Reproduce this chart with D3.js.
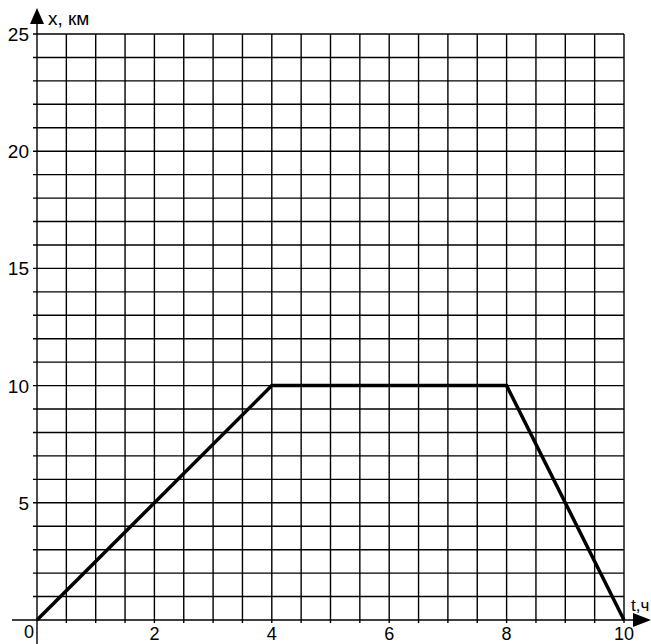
<!DOCTYPE html>
<html>
<head>
<meta charset="utf-8">
<script src="https://cdn.jsdelivr.net/npm/d3@7/dist/d3.min.js"></script>
<style>
  html, body { margin: 0; padding: 0; background: #fff; }
  svg { display: block; }
  text { font-family: "Liberation Sans", Arial, sans-serif; fill: #000; }
</style>
</head>
<body>
<svg id="chart" width="651" height="644"></svg>
<script>
// motion graph: x (km) against t (h)
const tValues = [0, 4, 8, 10];
const xValues = [0, 10, 10, 0];

const tTickLabels = [2, 4, 6, 8, 10];
const xTickLabels = [5, 10, 15, 20, 25];

const tGrid = d3.range(0.5, 10.01, 0.5);   // one cell = 0.5 h
const xGrid = d3.range(1, 25.01, 1);       // one cell = 1 km

const svg = d3.select("#chart");

const x = d3.scaleLinear().domain([0, 10]).range([37, 624]);
const y = d3.scaleLinear().domain([0, 25]).range([620, 34]);

const gridW = 1.4;

// grid: horizontal lines stick out a bit left of the axis, vertical ones below it
svg.append("g").selectAll("line")
  .data(xGrid)
  .enter().append("line")
  .attr("x1", x(0) - 4).attr("x2", x(10))
  .attr("y1", d => y(d)).attr("y2", d => y(d))
  .attr("stroke", "#000").attr("stroke-width", gridW);

svg.append("g").selectAll("line")
  .data(tGrid)
  .enter().append("line")
  .attr("x1", d => x(d)).attr("x2", d => x(d))
  .attr("y1", y(25)).attr("y2", y(0) + 3)
  .attr("stroke", "#000").attr("stroke-width", gridW);

// axes with arrows
svg.append("line")
  .attr("x1", 12).attr("x2", 640)
  .attr("y1", y(0)).attr("y2", y(0))
  .attr("stroke", "#000").attr("stroke-width", gridW);
svg.append("path")
  .attr("d", `M651,${y(0)}L633,${y(0) - 7}L633,${y(0) + 7}Z`)
  .attr("fill", "#000");

svg.append("line")
  .attr("x1", x(0)).attr("x2", x(0))
  .attr("y1", 644).attr("y2", 18)
  .attr("stroke", "#000").attr("stroke-width", gridW);
svg.append("path")
  .attr("d", `M${x(0)},8L${x(0) - 7},24L${x(0) + 7},24Z`)
  .attr("fill", "#000");

// tick labels
svg.append("g").selectAll("text")
  .data(xTickLabels)
  .enter().append("text")
  .attr("x", 29)
  .attr("y", d => y(d) + 7)
  .attr("text-anchor", "end")
  .attr("font-size", 19)
  .text(d => d);

svg.append("g").selectAll("text")
  .data(tTickLabels)
  .enter().append("text")
  .attr("x", d => x(d))
  .attr("y", 640)
  .attr("text-anchor", "middle")
  .attr("font-size", 18)
  .text(d => d);

svg.append("text")
  .attr("x", 34).attr("y", 638)
  .attr("text-anchor", "end")
  .attr("font-size", 18)
  .text("0");

// axis titles
svg.append("text")
  .attr("x", 48).attr("y", 25)
  .attr("font-size", 19)
  .text("x, км");

svg.append("text")
  .attr("x", 631).attr("y", 611)
  .attr("font-size", 17)
  .text("t,ч");

// the motion line
const line = d3.line()
  .x((d, i) => x(tValues[i]))
  .y(d => y(d));

svg.append("path")
  .datum(xValues)
  .attr("d", line)
  .attr("fill", "none")
  .attr("stroke", "#000")
  .attr("stroke-width", 3.5)
  .attr("stroke-linejoin", "miter");
</script>
</body>
</html>
